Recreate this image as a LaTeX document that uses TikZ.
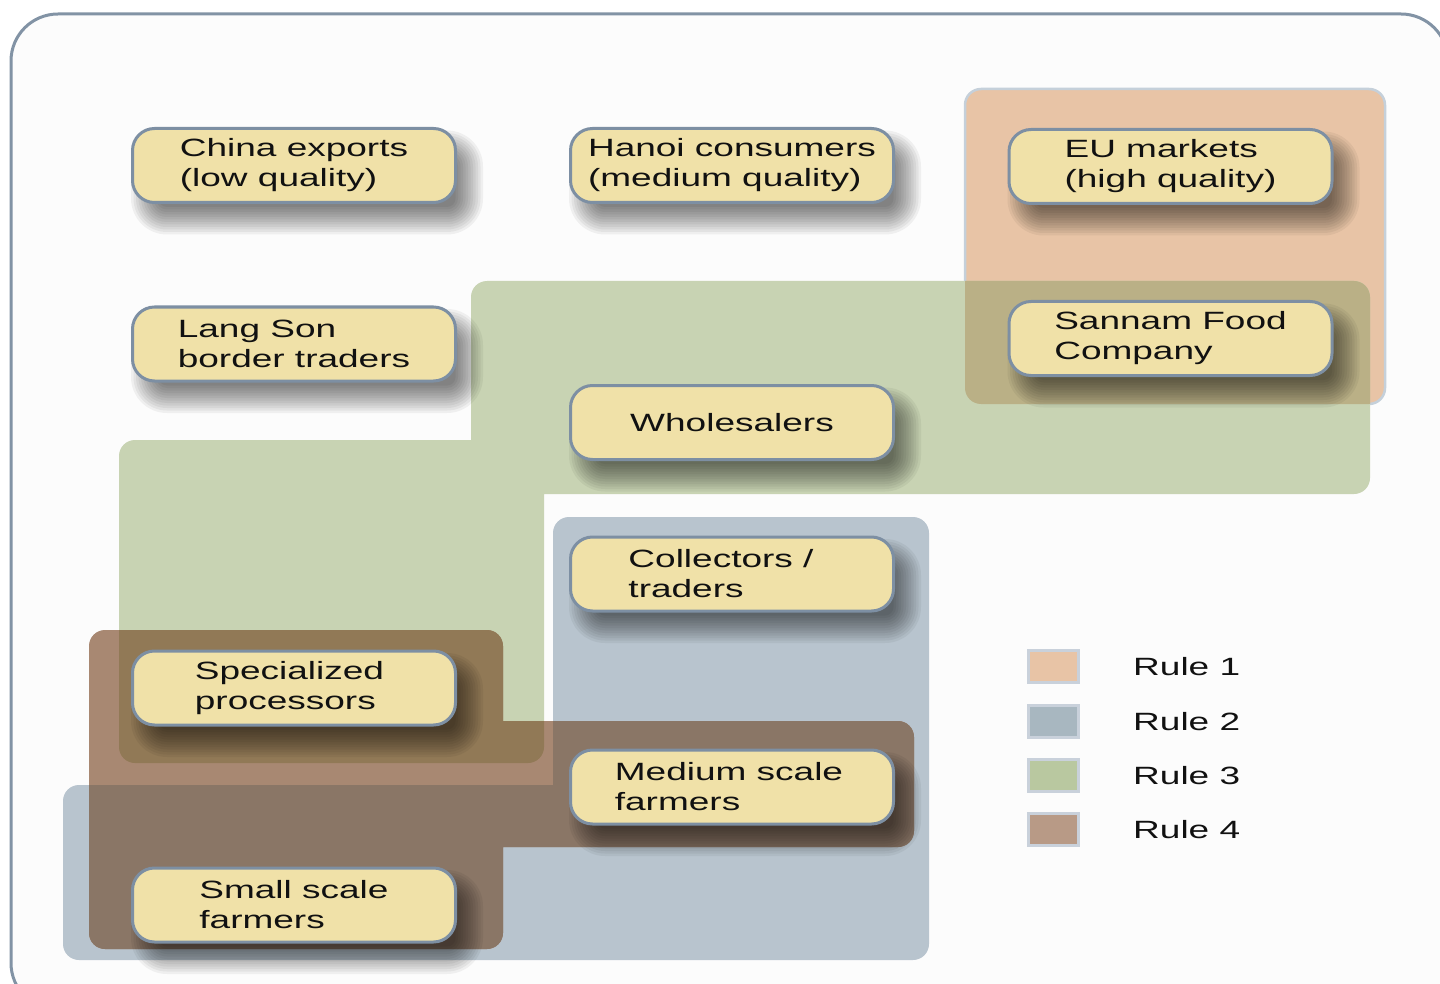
\documentclass[tikz,border=0pt]{standalone}
\usepackage{fontspec}
\setmainfont{Liberation Sans}[FakeStretch=1.48]
\definecolor{framec}{HTML}{8293A5}
\definecolor{bgc}{HTML}{FCFCFC}
\definecolor{peach}{HTML}{E8C4A6}
\definecolor{peachedge}{HTML}{C5D0DA}
\definecolor{olive}{HTML}{BAB086}
\definecolor{greenr}{HTML}{C8D3B3}
\definecolor{bluer}{HTML}{B8C4CE}
\definecolor{brownw}{HTML}{A88872}
\definecolor{browng}{HTML}{917956}
\definecolor{brownb}{HTML}{8A7666}
\definecolor{nodefill}{HTML}{F0E1A8}
\definecolor{nodeedge}{HTML}{7D8FA3}
\definecolor{legone}{HTML}{E8C4A6}
\definecolor{legtwo}{HTML}{A8B7C0}
\definecolor{legthree}{HTML}{B9C8A0}
\definecolor{legfour}{HTML}{B89A86}
\definecolor{legedge}{HTML}{C9D1DB}
\definecolor{txt}{HTML}{111111}
% soft shadow: centre x, centre y (of the node)
\newcommand\softshade[2]{%
  \foreach \k in {0,...,11}{%
    \pgfmathsetmacro\dd{14-2.5*\k}%
    \pgfmathsetmacro\rr{max(22+\dd,3)}%
    \pgfmathsetmacro\xa{#1+13-162-\dd}%
    \pgfmathsetmacro\xb{#1+13+162+\dd}%
    \pgfmathsetmacro\ya{#2+17-38-\dd}%
    \pgfmathsetmacro\yb{#2+17+38+\dd}%
    \fill[black, opacity=0.05, rounded corners=\rr pt] (\xa,\ya) rectangle (\xb,\yb);
  }%
}
\newcommand\actornode[4]{% name, x, y, text
  \softshade{#2}{#3}
  \node[actor] (#1) at (#2,#3) {#4};
}
\begin{document}
\begin{tikzpicture}[x=1pt,y=-1pt,
  actor/.style={draw=nodeedge, line width=3pt, fill=nodefill, rounded corners=22pt,
    minimum width=323pt, minimum height=74pt, inner sep=0pt, align=left,
    font=\fontsize{25}{30}\selectfont, text=txt},
  region/.style={rounded corners=16pt},
  legbox/.style={draw=legedge, line width=3pt, minimum width=50pt, minimum height=32pt, inner sep=0pt},
  legtext/.style={anchor=west, font=\fontsize{25}{30}\selectfont, inner sep=0pt, text=txt}
]
\useasboundingbox (0,0) rectangle (1440,984);
% outer frame
\draw[framec, line width=3pt, fill=bgc, rounded corners=47pt] (11,14) rectangle (1448,1010);
% Rule 1 (peach)
\fill[peach, region] (965,89) rectangle (1385,404);
\draw[peachedge, line width=2.5pt, region] (965,89) rectangle (1385,404);
% Rule 3 (green)
\fill[greenr, region] (471,281) rectangle (1370,494) (119,440) rectangle (544,763);
\begin{scope}
  \clip[region] (965,89) rectangle (1385,404);
  \fill[olive, region] (471,281) rectangle (1370,494);
\end{scope}
% Rule 2 (blue)
\fill[bluer, region] (553,517) rectangle (929,960) (63,785) rectangle (929,960);
% Rule 4 (brown)
\fill[brownw, region] (89,630) rectangle (503,949) (450,721) rectangle (914,847);
\begin{scope}
  \clip[region] (471,281) rectangle (1370,494) (119,440) rectangle (544,763);
  \fill[browng, region] (89,630) rectangle (503,949) (450,721) rectangle (914,847);
\end{scope}
\begin{scope}
  \clip[region] (553,517) rectangle (929,960) (63,785) rectangle (929,960);
  \fill[brownb, region] (89,630) rectangle (503,949) (450,721) rectangle (914,847);
\end{scope}
% actors
\actornode{china}{294}{165.5}{China exports\\(low quality)}
\actornode{hanoi}{732}{165.5}{Hanoi consumers\\(medium quality)}
\actornode{eu}{1170.5}{166.5}{EU markets\\(high quality)}
\actornode{lang}{294}{344}{Lang Son\\border traders}
\actornode{sannam}{1170.5}{338.5}{Sannam Food\\Company}
\actornode{whole}{732}{422.5}{Wholesalers}
\actornode{coll}{732}{574}{Collectors /\hspace*{22pt}\\traders}
\actornode{spec}{294}{688}{Specialized\hspace*{9pt}\\processors}
\actornode{med}{732}{787}{Medium scale\hspace*{6pt}\\farmers}
\actornode{small}{294}{905}{Small scale\\farmers}
% legend
\node[legbox, fill=legone] (l1) at (1053.5,666.5) {};
\node[legbox, fill=legtwo] (l2) at (1053.5,721.5) {};
\node[legbox, fill=legthree] (l3) at (1053.5,775.5) {};
\node[legbox, fill=legfour] (l4) at (1053.5,829.5) {};
\node[legtext] (t1) at (1133,666.5) {Rule 1};
\node[legtext] (t2) at (1133,721.5) {Rule 2};
\node[legtext] (t3) at (1133,775.5) {Rule 3};
\node[legtext] (t4) at (1133,829.5) {Rule 4};
\end{tikzpicture}
\end{document}
